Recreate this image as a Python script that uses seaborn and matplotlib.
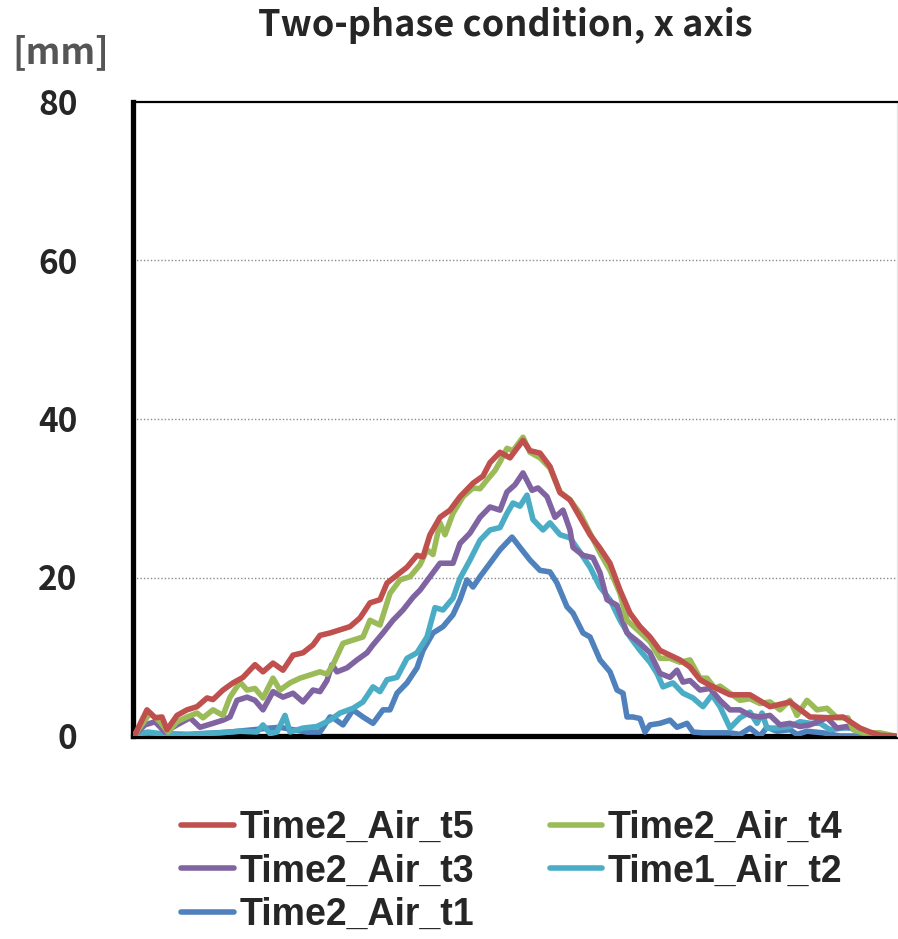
import numpy as np
import pandas as pd
import matplotlib
matplotlib.use("Agg")
import matplotlib.pyplot as plt
import seaborn as sns

# values (x = sample position, y = displacement in mm)
t5_x = [135, 147, 155, 162, 167, 177, 187, 197, 207, 213, 223, 233, 243, 255, 263, 273, 283, 293, 303, 313,
        320, 330, 340, 350, 360, 370, 380, 387, 397, 407, 417, 423, 430, 440, 450, 460, 473, 483, 490, 500,
        510, 517, 523, 530, 540, 550, 560, 570, 580, 590, 600, 610, 620, 630, 640, 650, 660, 670, 680, 690,
        700, 710, 730, 750, 770, 790, 810, 830, 843, 860, 870, 880, 895]
t5_y = [0.2, 3.3, 2.3, 2.4, 0.8, 2.6, 3.3, 3.7, 4.8, 4.6, 5.8, 6.7, 7.4, 9.0, 8.1, 9.2, 8.3, 10.2, 10.5, 11.5,
        12.7, 13.0, 13.4, 13.8, 14.9, 16.8, 17.2, 19.3, 20.3, 21.3, 22.8, 22.6, 25.4, 27.6, 28.5, 30.2, 31.9, 32.8, 34.5, 35.8,
        35.1, 36.3, 37.3, 36.0, 35.7, 34.0, 30.7, 29.8, 27.6, 25.4, 23.7, 21.8, 18.4, 15.5, 13.8, 12.5, 10.8, 10.2, 9.6, 8.7,
        7.1, 6.4, 5.2, 5.2, 3.7, 4.3, 2.4, 2.3, 2.4, 1.0, 0.5, 0.1, 0.0]

t4_x = [135, 150, 160, 168, 177, 187, 197, 203, 213, 223, 230, 240, 247, 255, 263, 273, 280, 290, 300, 310,
        320, 327, 333, 343, 353, 363, 370, 380, 390, 400, 410, 420, 427, 433, 440, 445, 453, 463, 473, 480,
        487, 495, 500, 507, 513, 523, 530, 540, 550, 560, 570, 580, 590, 600, 610, 620, 627, 640, 650, 660,
        670, 680, 690, 700, 707, 715, 720, 730, 740, 750, 760, 770, 780, 790, 797, 807, 817, 827, 837, 848,
        853, 863, 880, 895]
t4_y = [0.2, 2.9, 1.8, 0.5, 1.8, 2.4, 2.9, 2.3, 3.3, 2.6, 4.9, 6.8, 5.8, 6.0, 4.8, 7.3, 5.8, 6.7, 7.3, 7.7,
        8.1, 7.8, 9.0, 11.7, 12.1, 12.5, 14.6, 14.0, 18.0, 19.7, 20.1, 21.6, 23.5, 22.9, 26.9, 25.4, 28.1, 30.2, 31.3, 31.2,
        32.3, 33.5, 34.6, 36.3, 36.0, 37.7, 35.8, 35.1, 33.8, 30.8, 29.8, 28.1, 25.6, 23.1, 20.9, 18.0, 14.6, 13.1, 11.9, 9.8,
        9.8, 9.3, 9.6, 7.3, 7.3, 6.0, 6.3, 5.4, 4.5, 4.7, 4.1, 4.3, 3.3, 4.5, 2.6, 4.5, 3.3, 3.5, 2.3, 2.3,
        0.8, 0.4, 0.4, 0.0]

t3_x = [135, 145, 155, 165, 177, 190, 200, 213, 223, 230, 237, 247, 255, 263, 273, 283, 293, 303, 313, 320,
        327, 332, 337, 347, 357, 367, 373, 383, 393, 403, 413, 420, 430, 440, 453, 460, 470, 480, 490, 500,
        507, 515, 523, 532, 538, 547, 555, 563, 570, 573, 583, 593, 600, 607, 617, 627, 640, 650, 660, 670,
        677, 683, 690, 700, 710, 720, 730, 740, 750, 760, 770, 780, 790, 800, 810, 827, 837, 847, 863, 880, 895]
t3_y = [0.2, 1.4, 1.8, 0.5, 1.4, 2.3, 1.1, 1.6, 2.0, 2.4, 4.5, 4.9, 4.5, 3.3, 5.6, 4.9, 5.4, 4.3, 5.8, 5.6,
        7.0, 9.0, 8.1, 8.6, 9.6, 10.5, 11.5, 13.0, 14.6, 15.9, 17.5, 18.4, 20.1, 21.8, 21.8, 24.3, 25.6, 27.6, 28.9, 28.5,
        30.8, 31.7, 33.2, 31.0, 31.3, 30.2, 27.6, 28.5, 26.0, 23.8, 22.8, 22.5, 20.6, 17.2, 16.5, 13.0, 11.7, 10.5, 7.9, 7.4,
        8.3, 6.8, 7.0, 5.8, 6.0, 4.5, 3.3, 3.3, 2.6, 2.4, 2.6, 1.4, 1.6, 1.2, 1.4, 2.3, 1.0, 1.2, 0.5, 0.0, 0.0]

t2_x = [135, 148, 160, 180, 200, 220, 240, 257, 263, 270, 277, 285, 290, 303, 317, 330, 340, 353, 363, 373,
        380, 387, 397, 407, 417, 427, 435, 443, 453, 460, 470, 480, 490, 500, 507, 513, 520, 527, 533, 543,
        550, 560, 570, 580, 590, 600, 610, 620, 630, 640, 650, 657, 663, 673, 683, 693, 703, 712, 720, 730,
        740, 750, 757, 762, 767, 777, 790, 800, 810, 820, 830, 843, 853, 863, 875, 895]
t2_y = [0.2, 0.5, 0.3, 0.1, 0.3, 0.4, 0.6, 0.5, 1.4, 0.3, 0.5, 2.6, 0.5, 1.0, 1.2, 2.0, 2.9, 3.5, 4.3, 6.2,
        5.6, 7.1, 7.4, 9.8, 10.5, 12.5, 16.2, 15.9, 17.4, 19.9, 22.2, 24.7, 26.0, 26.3, 28.1, 29.4, 29.0, 30.4, 27.3, 26.0,
        26.9, 25.4, 25.0, 23.2, 21.3, 18.8, 17.2, 14.6, 12.5, 10.8, 9.3, 7.9, 6.2, 6.7, 5.4, 4.8, 3.7, 5.2, 3.7, 1.0,
        2.3, 3.0, 1.6, 2.9, 1.0, 1.0, 1.2, 1.8, 1.6, 1.6, 0.8, 1.0, 1.0, 0.5, 0.0, 0.0]

t1_x = [135, 160, 190, 230, 270, 280, 293, 307, 320, 330, 333, 343, 353, 363, 373, 383, 390, 397, 407, 417,
        423, 433, 443, 453, 460, 467, 473, 480, 490, 500, 512, 520, 530, 540, 550, 557, 567, 573, 583, 590,
        600, 610, 617, 623, 627, 633, 640, 645, 650, 660, 670, 677, 687, 693, 703, 717, 730, 740, 750, 760,
        767, 777, 790, 797, 807, 823, 840, 895]
t1_y = [0.2, 0.3, 0.2, 0.5, 1.0, 1.1, 0.8, 0.5, 0.5, 2.4, 2.3, 1.4, 3.3, 2.4, 1.6, 3.3, 3.3, 5.4, 6.7, 8.6,
        10.8, 13.0, 13.8, 15.3, 17.2, 19.7, 18.8, 20.1, 21.8, 23.5, 25.1, 23.8, 22.2, 20.9, 20.7, 19.3, 16.3, 15.5, 13.0, 12.5,
        9.6, 8.1, 5.8, 5.4, 2.4, 2.4, 2.2, 0.5, 1.4, 1.6, 2.0, 1.1, 1.6, 0.5, 0.4, 0.4, 0.4, 0.2, 1.0, 0.0,
        1.1, 0.6, 0.8, 0.2, 0.6, 0.4, 0.0, 0.0]

series = {
    "Time2_Air_t5": (t5_x, t5_y),
    "Time2_Air_t4": (t4_x, t4_y),
    "Time2_Air_t3": (t3_x, t3_y),
    "Time1_Air_t2": (t2_x, t2_y),
    "Time2_Air_t1": (t1_x, t1_y),
}
colors = {
    "Time2_Air_t5": "#C0504D",
    "Time2_Air_t4": "#9BBB59",
    "Time2_Air_t3": "#8064A2",
    "Time1_Air_t2": "#4BACC6",
    "Time2_Air_t1": "#4F81BD",
}

frames = []
for name, (xs, ys) in series.items():
    frames.append(pd.DataFrame({"pos": xs, "mm": ys, "series": name}))
df = pd.concat(frames, ignore_index=True)

sns.set_style("white")
plt.rcParams["font.family"] = ["Noto Sans CJK KR", "DejaVu Sans"]

fig = plt.figure(figsize=(8.98, 9.39), dpi=100)
ax = fig.add_axes([133 / 898, 1 - 736 / 939, 764 / 898, 634 / 939])

# draw t1 first so the later series sit on top like the reference
order = ["Time2_Air_t1", "Time1_Air_t2", "Time2_Air_t3", "Time2_Air_t4", "Time2_Air_t5"]
sns.lineplot(data=df, x="pos", y="mm", hue="series", hue_order=order, palette=colors,
             estimator=None, sort=False, linewidth=4.0, ax=ax, legend=False, zorder=3)
for ln in ax.get_lines():
    ln.set_solid_joinstyle("round")
    ln.set_solid_capstyle("round")

ax.set_xlim(133, 897)
ax.set_ylim(0, 80)
ax.set_yticks([0, 20, 40, 60, 80])
ax.set_xticks([])
ax.set_xlabel("")
ax.set_ylabel("")
for v in [20, 40, 60]:
    ax.axhline(v, color="#8c8c8c", linestyle=(0, (1, 1.5)), linewidth=1.0, zorder=1)

ax.spines["left"].set_linewidth(3.8)
ax.spines["bottom"].set_linewidth(3.8)
ax.spines["top"].set_linewidth(1.6)
ax.spines["right"].set_color("#e6e6e6")
ax.spines["right"].set_linewidth(1.0)
for s in ["left", "bottom", "top"]:
    ax.spines[s].set_color("black")
ax.spines["bottom"].set_zorder(2)

ax.tick_params(axis="y", direction="in", length=11, width=3.8, pad=40, labelsize=24)
for lab in ax.get_yticklabels():
    lab.set_fontweight("bold")

fig.text(505 / 898, 1 - 25 / 939, "Two-phase condition, x axis", fontsize=26, fontweight="bold",
         ha="center", va="center")
fig.text(12 / 898, 1 - 53 / 939, "[mm]", fontsize=26, fontweight="bold", color="#555555",
         ha="left", va="center")

legend_order = ["Time2_Air_t5", "Time2_Air_t3", "Time2_Air_t1", "Time2_Air_t4", "Time1_Air_t2"]
handles = [plt.Line2D([], [], color=colors[n], linewidth=4.0, solid_capstyle="round") for n in legend_order]
leg = fig.legend(handles, legend_order, loc="upper left", bbox_to_anchor=(181 / 898, 1 - 810 / 939),
                 ncol=2, frameon=False, borderpad=0, borderaxespad=0, handlelength=1.4,
                 handletextpad=0.15, columnspacing=2.03, labelspacing=0.2,
                 prop={"family": "Liberation Sans", "weight": "bold", "size": 27})

fig.savefig("out.png", dpi=100)
